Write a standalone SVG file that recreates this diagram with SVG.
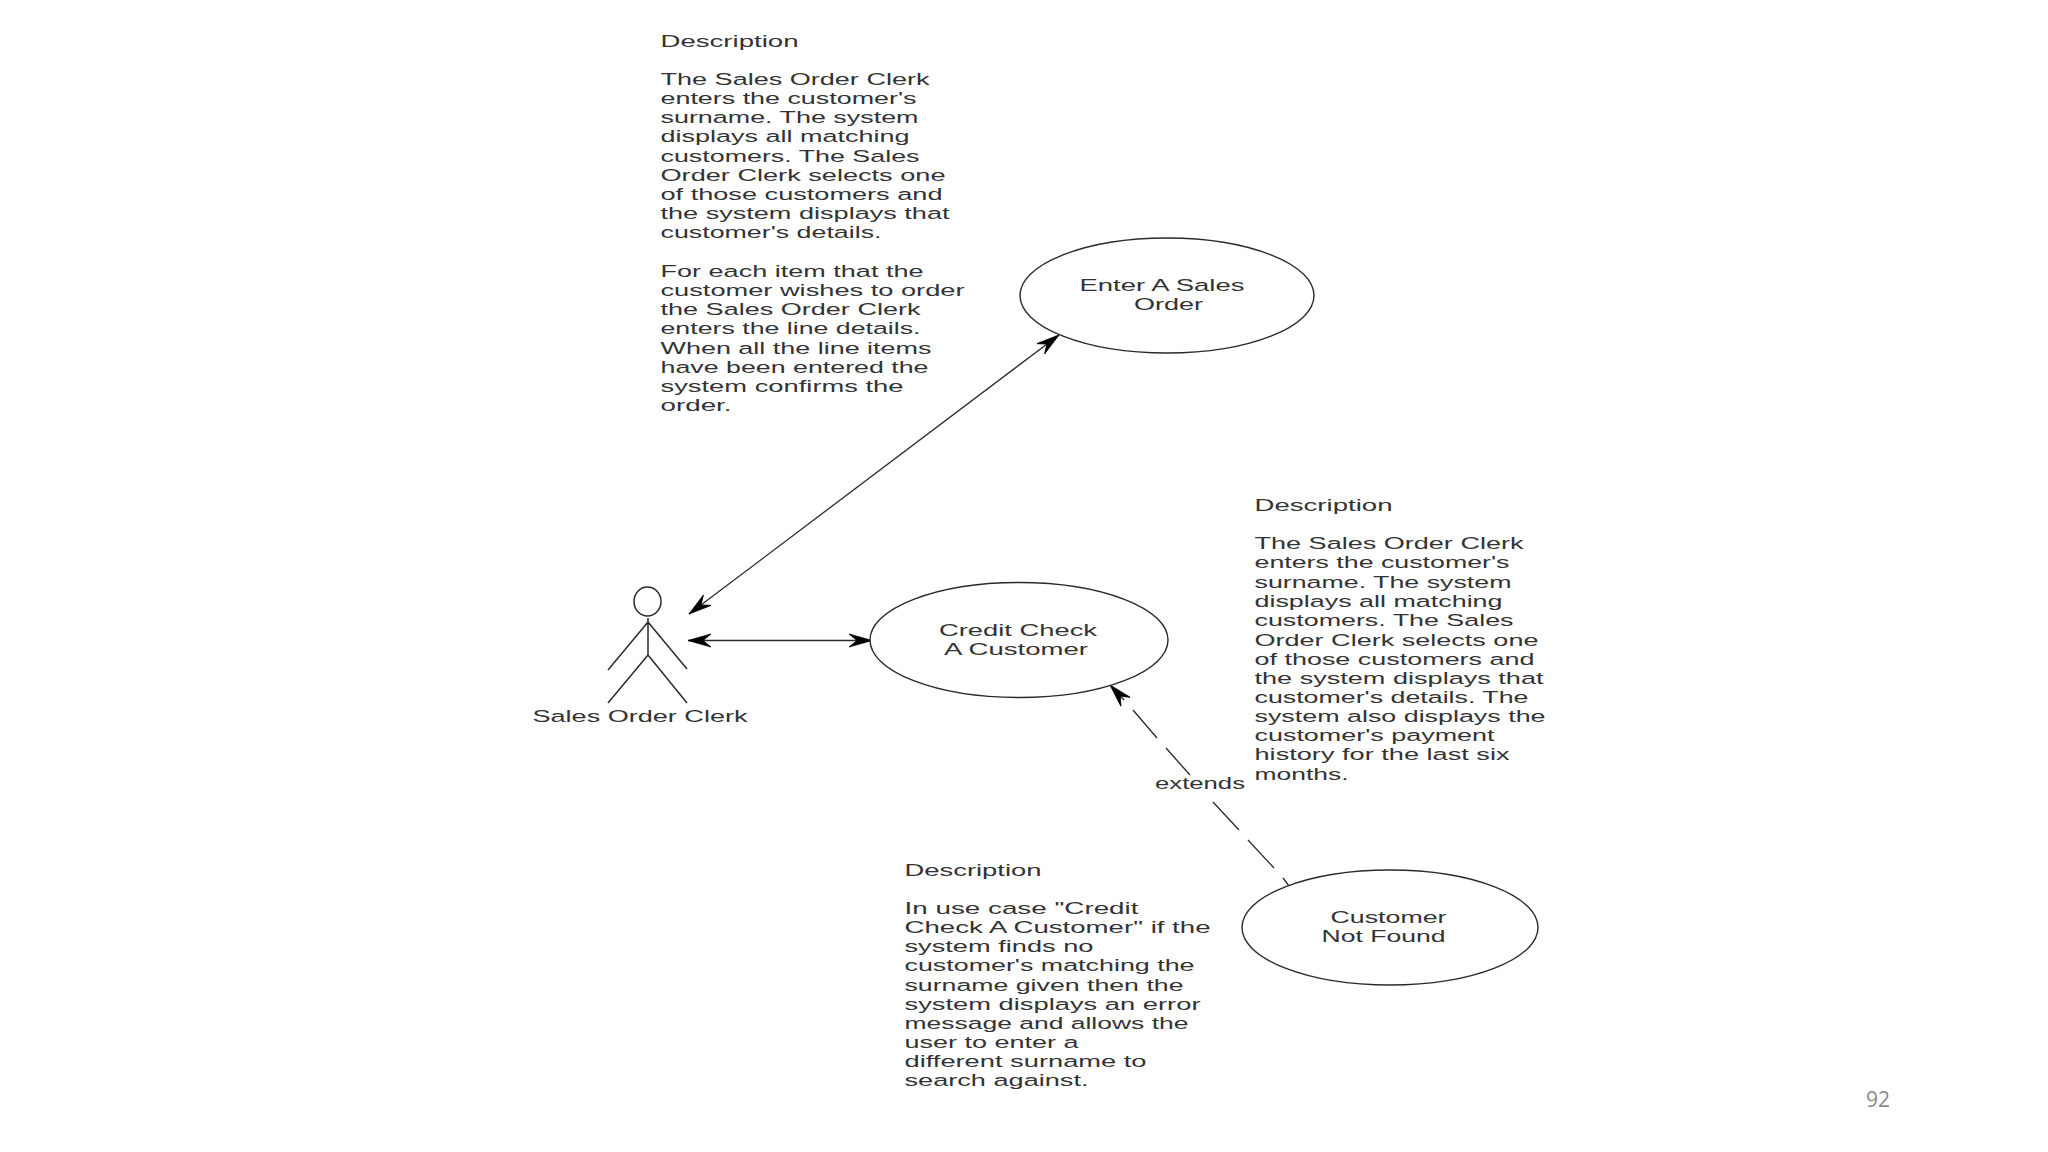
<svg xmlns="http://www.w3.org/2000/svg" width="2048" height="1152" viewBox="0 0 2048 1152">
<style>
.t{font-family:"Liberation Sans",Arial,sans-serif;font-size:16.7px;fill:#333}
.n{fill:#fff;stroke:#2a2a2a;stroke-width:1.4}
.a{fill:none;stroke:#2a2a2a;stroke-width:1.5}
.c{fill:none;stroke:#2a2a2a;stroke-width:1.3}
.p{font-family:"Open Sans",sans-serif;font-size:21px;fill:#8a8a8a}
</style>
<defs>
<marker id="h" markerUnits="userSpaceOnUse" markerWidth="26" markerHeight="18" refX="23" refY="9" orient="auto-start-reverse" viewBox="0 0 26 18">
<path d="M23,9 L0,2.500 L8,9 L0,15.500 Z" fill="#000" stroke="#000" stroke-width="0.8"/>
</marker>
</defs>
<rect width="2048" height="1152" fill="#fff"/>
<g id="connectors">
<path class="c" d="M689,614 L1059,335" marker-start="url(#h)" marker-end="url(#h)"/>
<path class="c" d="M688,640.500 L872,640.500" marker-start="url(#h)" marker-end="url(#h)"/>
<path class="c" d="M1289,886 L1283,878 M1274,868 L1248,840 M1239,830 L1213,802 M1190,775 L1166,748 M1157,738 L1133,710 M1124,700 L1110,685" marker-end="url(#h)"/>
</g>
<g id="actor-sales-order-clerk">
<ellipse class="a" cx="647.500" cy="601.500" rx="13.500" ry="14.500"/>
<path class="a" d="M648,618 V655 M648,622 L608,670 M648,622 L687,669 M648,655 L608,703 M648,655 L687,703"/>
<text class="t" x="532.500" y="722" textLength="215" lengthAdjust="spacingAndGlyphs">Sales Order Clerk</text>
</g>
<g id="usecase-enter-sales-order">
<ellipse class="n" cx="1167" cy="295.500" rx="147" ry="57.500"/>
<text class="t" x="1079.500" y="290.700" textLength="165" lengthAdjust="spacingAndGlyphs">Enter A Sales</text>
<text class="t" x="1134" y="309.500" textLength="69" lengthAdjust="spacingAndGlyphs">Order</text>
</g>
<g id="usecase-credit-check">
<ellipse class="n" cx="1019" cy="640" rx="149" ry="57.500"/>
<text class="t" x="939" y="635.500" textLength="158" lengthAdjust="spacingAndGlyphs">Credit Check</text>
<text class="t" x="944" y="654.500" textLength="144" lengthAdjust="spacingAndGlyphs">A Customer</text>
</g>
<g id="usecase-customer-not-found">
<ellipse class="n" cx="1390" cy="927.500" rx="148" ry="57.500"/>
<text class="t" x="1330.500" y="923" textLength="116" lengthAdjust="spacingAndGlyphs">Customer</text>
<text class="t" x="1321.500" y="942" textLength="124" lengthAdjust="spacingAndGlyphs">Not Found</text>
</g>
<g id="label-extends">
<text class="t" x="1155" y="789" textLength="90" lengthAdjust="spacingAndGlyphs">extends</text>
</g>
<g id="description-enter-sales-order">
<text class="t" x="660.500" y="46.700" textLength="138" lengthAdjust="spacingAndGlyphs">Description</text>
<text class="t" x="660.500" y="85" textLength="269" lengthAdjust="spacingAndGlyphs">The Sales Order Clerk</text>
<text class="t" x="660.500" y="104" textLength="256" lengthAdjust="spacingAndGlyphs">enters the customer's</text>
<text class="t" x="660.500" y="123" textLength="258" lengthAdjust="spacingAndGlyphs">surname. The system</text>
<text class="t" x="660.500" y="142" textLength="249" lengthAdjust="spacingAndGlyphs">displays all matching</text>
<text class="t" x="660.500" y="161.500" textLength="259" lengthAdjust="spacingAndGlyphs">customers. The Sales</text>
<text class="t" x="660.500" y="180.500" textLength="285" lengthAdjust="spacingAndGlyphs">Order Clerk selects one</text>
<text class="t" x="660.500" y="199.500" textLength="282" lengthAdjust="spacingAndGlyphs">of those customers and</text>
<text class="t" x="660.500" y="219" textLength="289" lengthAdjust="spacingAndGlyphs">the system displays that</text>
<text class="t" x="660.500" y="238" textLength="221" lengthAdjust="spacingAndGlyphs">customer's details.</text>
<text class="t" x="660.500" y="276.700" textLength="263" lengthAdjust="spacingAndGlyphs">For each item that the</text>
<text class="t" x="660.500" y="296" textLength="304" lengthAdjust="spacingAndGlyphs">customer wishes to order</text>
<text class="t" x="660.500" y="315" textLength="260" lengthAdjust="spacingAndGlyphs">the Sales Order Clerk</text>
<text class="t" x="660.500" y="334" textLength="260" lengthAdjust="spacingAndGlyphs">enters the line details.</text>
<text class="t" x="660.500" y="353.500" textLength="271" lengthAdjust="spacingAndGlyphs">When all the line items</text>
<text class="t" x="660.500" y="372.500" textLength="268" lengthAdjust="spacingAndGlyphs">have been entered the</text>
<text class="t" x="660.500" y="391.500" textLength="243" lengthAdjust="spacingAndGlyphs">system confirms the</text>
<text class="t" x="660.500" y="410.500" textLength="71" lengthAdjust="spacingAndGlyphs">order.</text>
</g>
<g id="description-credit-check">
<text class="t" x="1254.500" y="511" textLength="138" lengthAdjust="spacingAndGlyphs">Description</text>
<text class="t" x="1254.500" y="549" textLength="269" lengthAdjust="spacingAndGlyphs">The Sales Order Clerk</text>
<text class="t" x="1254.500" y="568" textLength="255" lengthAdjust="spacingAndGlyphs">enters the customer's</text>
<text class="t" x="1254.500" y="588" textLength="257" lengthAdjust="spacingAndGlyphs">surname. The system</text>
<text class="t" x="1254.500" y="607" textLength="248" lengthAdjust="spacingAndGlyphs">displays all matching</text>
<text class="t" x="1254.500" y="626" textLength="259" lengthAdjust="spacingAndGlyphs">customers. The Sales</text>
<text class="t" x="1254.500" y="645.500" textLength="284" lengthAdjust="spacingAndGlyphs">Order Clerk selects one</text>
<text class="t" x="1254.500" y="664.500" textLength="280" lengthAdjust="spacingAndGlyphs">of those customers and</text>
<text class="t" x="1254.500" y="684" textLength="289" lengthAdjust="spacingAndGlyphs">the system displays that</text>
<text class="t" x="1254.500" y="703" textLength="274" lengthAdjust="spacingAndGlyphs">customer's details. The</text>
<text class="t" x="1254.500" y="722" textLength="291" lengthAdjust="spacingAndGlyphs">system also displays the</text>
<text class="t" x="1254.500" y="741" textLength="240" lengthAdjust="spacingAndGlyphs">customer's payment</text>
<text class="t" x="1254.500" y="760" textLength="255" lengthAdjust="spacingAndGlyphs">history for the last six</text>
<text class="t" x="1254.500" y="779.500" textLength="94" lengthAdjust="spacingAndGlyphs">months.</text>
</g>
<g id="description-customer-not-found">
<text class="t" x="904.500" y="876" textLength="137" lengthAdjust="spacingAndGlyphs">Description</text>
<text class="t" x="904.500" y="913.500" textLength="234" lengthAdjust="spacingAndGlyphs">In use case "Credit</text>
<text class="t" x="904.500" y="932.500" textLength="306" lengthAdjust="spacingAndGlyphs">Check A Customer" if the</text>
<text class="t" x="904.500" y="951.700" textLength="189" lengthAdjust="spacingAndGlyphs">system finds no</text>
<text class="t" x="904.500" y="970.800" textLength="290" lengthAdjust="spacingAndGlyphs">customer's matching the</text>
<text class="t" x="904.500" y="990.500" textLength="279" lengthAdjust="spacingAndGlyphs">surname given then the</text>
<text class="t" x="904.500" y="1009.500" textLength="296" lengthAdjust="spacingAndGlyphs">system displays an error</text>
<text class="t" x="904.500" y="1028.500" textLength="284" lengthAdjust="spacingAndGlyphs">message and allows the</text>
<text class="t" x="904.500" y="1047.500" textLength="174" lengthAdjust="spacingAndGlyphs">user to enter a</text>
<text class="t" x="904.500" y="1066.500" textLength="242" lengthAdjust="spacingAndGlyphs">different surname to</text>
<text class="t" x="904.500" y="1086" textLength="184" lengthAdjust="spacingAndGlyphs">search against.</text>
</g>
<text class="p" x="1866" y="1107">92</text>
</svg>
